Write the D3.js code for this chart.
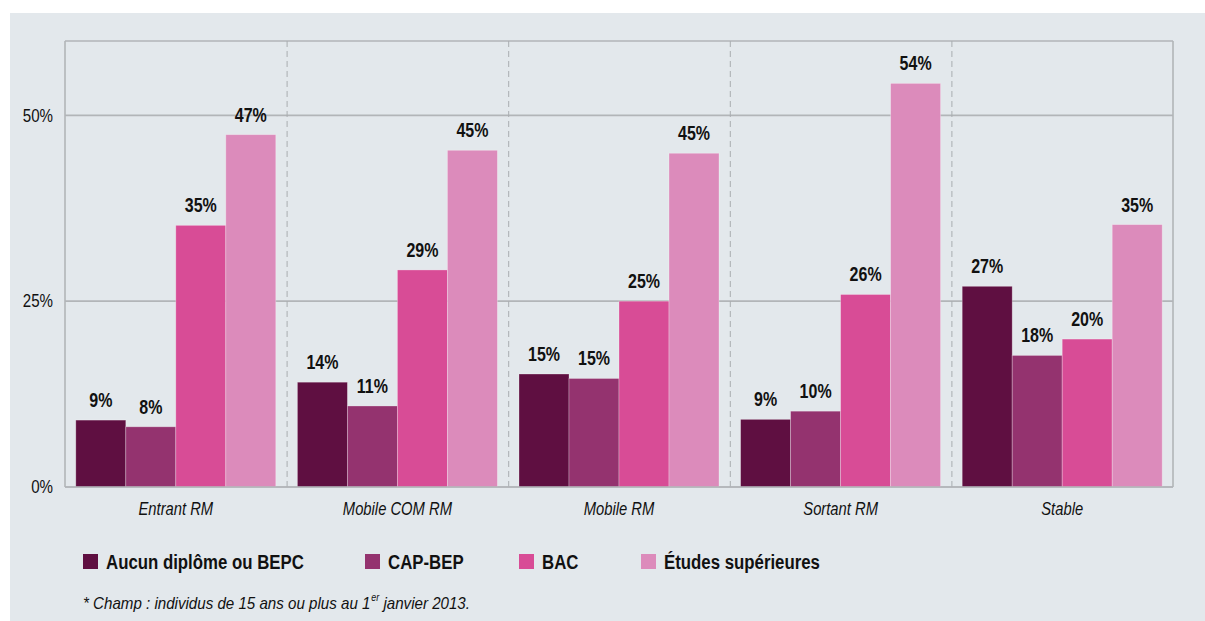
<!DOCTYPE html>
<html>
<head>
<meta charset="utf-8">
<script src="https://cdn.jsdelivr.net/npm/d3@7"></script>
<style>
  html, body { margin: 0; padding: 0; background: #ffffff; }
  svg { display: block; }
  text { font-family: "Liberation Sans", Arial, Helvetica, sans-serif; fill: #111; }
</style>
</head>
<body>
<svg id="chart" width="1205" height="621"></svg>
<script>
// Groups along the x axis
const categories = ["Entrant RM", "Mobile COM RM", "Mobile RM", "Sortant RM", "Stable"];
// Diploma levels (one bar each per group)
const seriesNames = ["Aucun diplôme ou BEPC", "CAP-BEP", "BAC", "Études supérieures"];
// Shares in percent, one array per diploma level, in category order
const aucunDiplome = [9.0, 14.1, 15.2, 9.1, 27.0];
const capBep = [8.1, 10.9, 14.6, 10.2, 17.7];
const bac = [35.2, 29.2, 25.0, 25.9, 19.9];
const etudesSup = [47.4, 45.3, 44.9, 54.3, 35.3];
// Y axis ticks
const yTicks = [0, 25, 50];
const footnote = "* Champ : individus de 15 ans ou plus au 1";
const footnoteSup = "er";
const footnoteEnd = " janvier 2013.";

const seriesValues = [aucunDiplome, capBep, bac, etudesSup];
const colors = ["#5f0f41", "#94336f", "#d84c96", "#dc8bbb"];

// Narrow the glyphs of a text selection horizontally (condensed look)
function condense(sel, factor) {
  sel.each(function () {
    const len = this.getComputedTextLength();
    d3.select(this).attr("textLength", len * factor).attr("lengthAdjust", "spacingAndGlyphs");
  });
}

const svg = d3.select("#chart");

// Grey panel behind everything
svg.append("rect").attr("x", 10).attr("y", 13).attr("width", 1195).attr("height", 608)
  .attr("fill", "#e3e8ec");

const plot = { left: 65, right: 1173, top: 41, bottom: 487 };

const x0 = d3.scaleBand().domain(categories).range([plot.left, plot.right]).padding(0);
const x1 = d3.scaleBand().domain(seriesNames).range([0, x0.bandwidth()])
  .paddingInner(0).paddingOuter(0.216);
const y = d3.scaleLinear().domain([0, 60]).range([plot.bottom, plot.top]);

const gridColor = "#b2b5b8";

// Horizontal grid lines + top border
const gridVals = yTicks.concat([60]);
svg.append("g").selectAll("line").data(gridVals).join("line")
  .attr("x1", plot.left).attr("x2", plot.right)
  .attr("y1", d => y(d)).attr("y2", d => y(d))
  .attr("stroke", gridColor).attr("stroke-width", 1.6);

// Dashed separators between groups
svg.append("g").selectAll("line").data(categories.slice(1)).join("line")
  .attr("x1", d => x0(d) + 0.5).attr("x2", d => x0(d) + 0.5)
  .attr("y1", plot.top).attr("y2", plot.bottom)
  .attr("stroke", "#a9adb1").attr("stroke-width", 1)
  .attr("stroke-dasharray", "6,4");

// Left and right frame lines
svg.append("g").selectAll("line").data([plot.left, plot.right]).join("line")
  .attr("x1", d => d).attr("x2", d => d)
  .attr("y1", plot.top).attr("y2", plot.bottom)
  .attr("stroke", gridColor).attr("stroke-width", 1.6);

// Bars
const rows = [];
categories.forEach((c, ci) => {
  seriesNames.forEach((s, si) => {
    rows.push({ cat: c, series: s, si, value: seriesValues[si][ci] });
  });
});

const bars = svg.append("g");
bars.selectAll("rect").data(rows).join("rect")
  .attr("x", d => x0(d.cat) + x1(d.series))
  .attr("y", d => y(d.value))
  .attr("width", x1.bandwidth())
  .attr("height", d => y(0) - y(d.value))
  .attr("fill", d => colors[d.si])
  .attr("stroke", "rgba(255,255,255,0.35)")
  .attr("stroke-width", 0.8);

// Value labels
bars.selectAll("text").data(rows).join("text")
  .attr("x", d => x0(d.cat) + x1(d.series) + x1.bandwidth() / 2)
  .attr("y", d => y(d.value) - 13)
  .attr("text-anchor", "middle")
  .attr("font-size", 20).attr("font-weight", "bold")
  .text(d => Math.round(d.value) + "%")
  .call(condense, 0.8);

// Bottom axis line drawn over the bars
svg.append("line").attr("x1", plot.left).attr("x2", plot.right)
  .attr("y1", y(0)).attr("y2", y(0))
  .attr("stroke", gridColor).attr("stroke-width", 1.6);

// Y tick labels
const yAxis = d3.axisLeft(y).tickValues(yTicks).tickSize(0).tickPadding(12)
  .tickFormat(d => d + "%");
const yg = svg.append("g").attr("transform", `translate(${plot.left},0)`).call(yAxis);
yg.select(".domain").remove();
yg.selectAll("text").attr("font-size", 18).attr("fill", "#111")
  .style("font-family", '"Liberation Sans", Arial, sans-serif')
  .call(condense, 0.84);

// Category labels
const xAxis = d3.axisBottom(x0).tickSize(0).tickPadding(12);
const xg = svg.append("g").attr("transform", `translate(0,${plot.bottom})`).call(xAxis);
xg.select(".domain").remove();
xg.selectAll("text").attr("font-size", 18).attr("font-style", "italic").attr("fill", "#111")
  .attr("dy", "0.9em")
  .style("font-family", '"Liberation Sans", Arial, sans-serif')
  .call(condense, 0.82);

// Legend
const legendX = [83, 365, 519, 641];
const legend = svg.append("g").selectAll("g").data(seriesNames).join("g")
  .attr("transform", (d, i) => `translate(${legendX[i]},554)`);
legend.append("rect").attr("width", 15).attr("height", 15)
  .attr("fill", (d, i) => colors[i]);
legend.append("text").attr("x", 23).attr("y", 15)
  .attr("font-size", 20).attr("font-weight", "bold")
  .text(d => d)
  .call(condense, 0.84);

// Footnote as one text run with a superscript, narrowed by a horizontal scale
const fn = svg.append("text")
  .attr("transform", "translate(83,609) scale(0.89,1)")
  .attr("font-size", 17).attr("font-style", "italic").attr("fill", "#222");
fn.append("tspan").text(footnote);
fn.append("tspan").attr("font-size", 10).attr("dy", -8).attr("dx", 1).text(footnoteSup);
fn.append("tspan").attr("dy", 8).text(footnoteEnd);
</script>
</body>
</html>
